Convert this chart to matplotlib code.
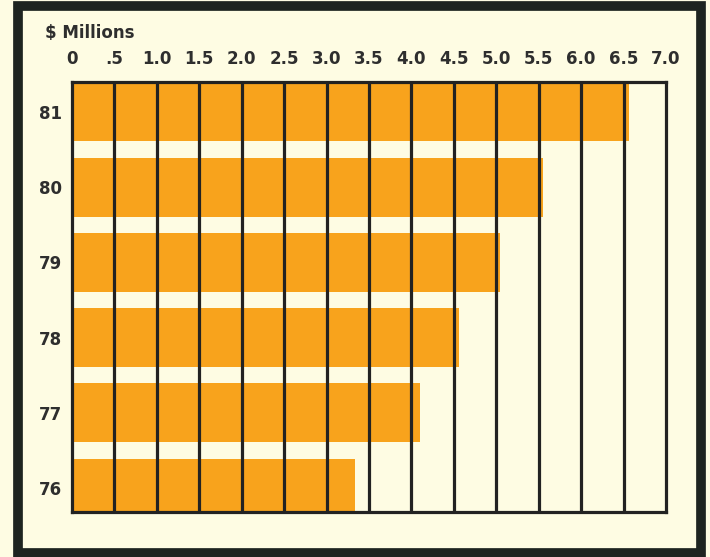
import matplotlib
matplotlib.use("Agg")
import matplotlib.pyplot as plt
from matplotlib.patches import Rectangle

years = ["76", "77", "78", "79", "80", "81"]
values = [3.34, 4.10, 4.56, 5.04, 5.55, 6.56]
ticks = [0, 0.5, 1.0, 1.5, 2.0, 2.5, 3.0, 3.5, 4.0, 4.5, 5.0, 5.5, 6.0, 6.5, 7.0]
tick_labels = ["0", ".5", "1.0", "1.5", "2.0", "2.5", "3.0", "3.5", "4.0",
               "4.5", "5.0", "5.5", "6.0", "6.5", "7.0"]

BG = "#FEFCE3"
ORANGE = "#F8A31C"
INK = "#222222"
TXT = "#2E2E2E"
FONT = "DejaVu Sans"
FS = 12

W, H = 710, 557
fig = plt.figure(figsize=(W / 100, H / 100), dpi=100, facecolor=BG)
ax = fig.add_axes([72 / W, 1 - 512 / H, (666 - 72) / W, (512 - 82) / H])
ax.set_facecolor(BG)

pos = list(range(len(years)))
ax.barh(pos, values, height=0.78, color=ORANGE, zorder=1)
ax.vlines(ticks[1:-1], -1, 7, colors=INK, linewidth=2.3, zorder=3)

ax.set_xlim(0, 7.0)
ax.set_ylim(-0.32, 5.40)
ax.xaxis.tick_top()
ax.set_xticks(ticks)
ax.set_xticklabels(tick_labels)
ax.set_yticks(pos)
ax.set_yticklabels(years)
ax.tick_params(axis="x", length=0, pad=10)
ax.tick_params(axis="y", length=0, pad=7)
for lab in ax.get_xticklabels() + ax.get_yticklabels():
    lab.set_fontfamily(FONT)
    lab.set_fontweight("bold")
    lab.set_fontsize(FS)
    lab.set_color(TXT)

for sp in ax.spines.values():
    sp.set_color(INK)
    sp.set_linewidth(2.3)
    sp.set_zorder(4)

fig.text(45 / W, 1 - 33 / H, "$ Millions", ha="left", va="center",
         fontfamily=FONT, fontweight="bold", fontsize=FS, color=TXT)

border = Rectangle((17.5 / W, 1 - 553 / H), (701 - 17.5) / W, (553 - 5.5) / H,
                   transform=fig.transFigure, fill=False, edgecolor="#1E2420",
                   linewidth=7)
fig.add_artist(border)

fig.savefig("out.png", dpi=100, facecolor=BG)
